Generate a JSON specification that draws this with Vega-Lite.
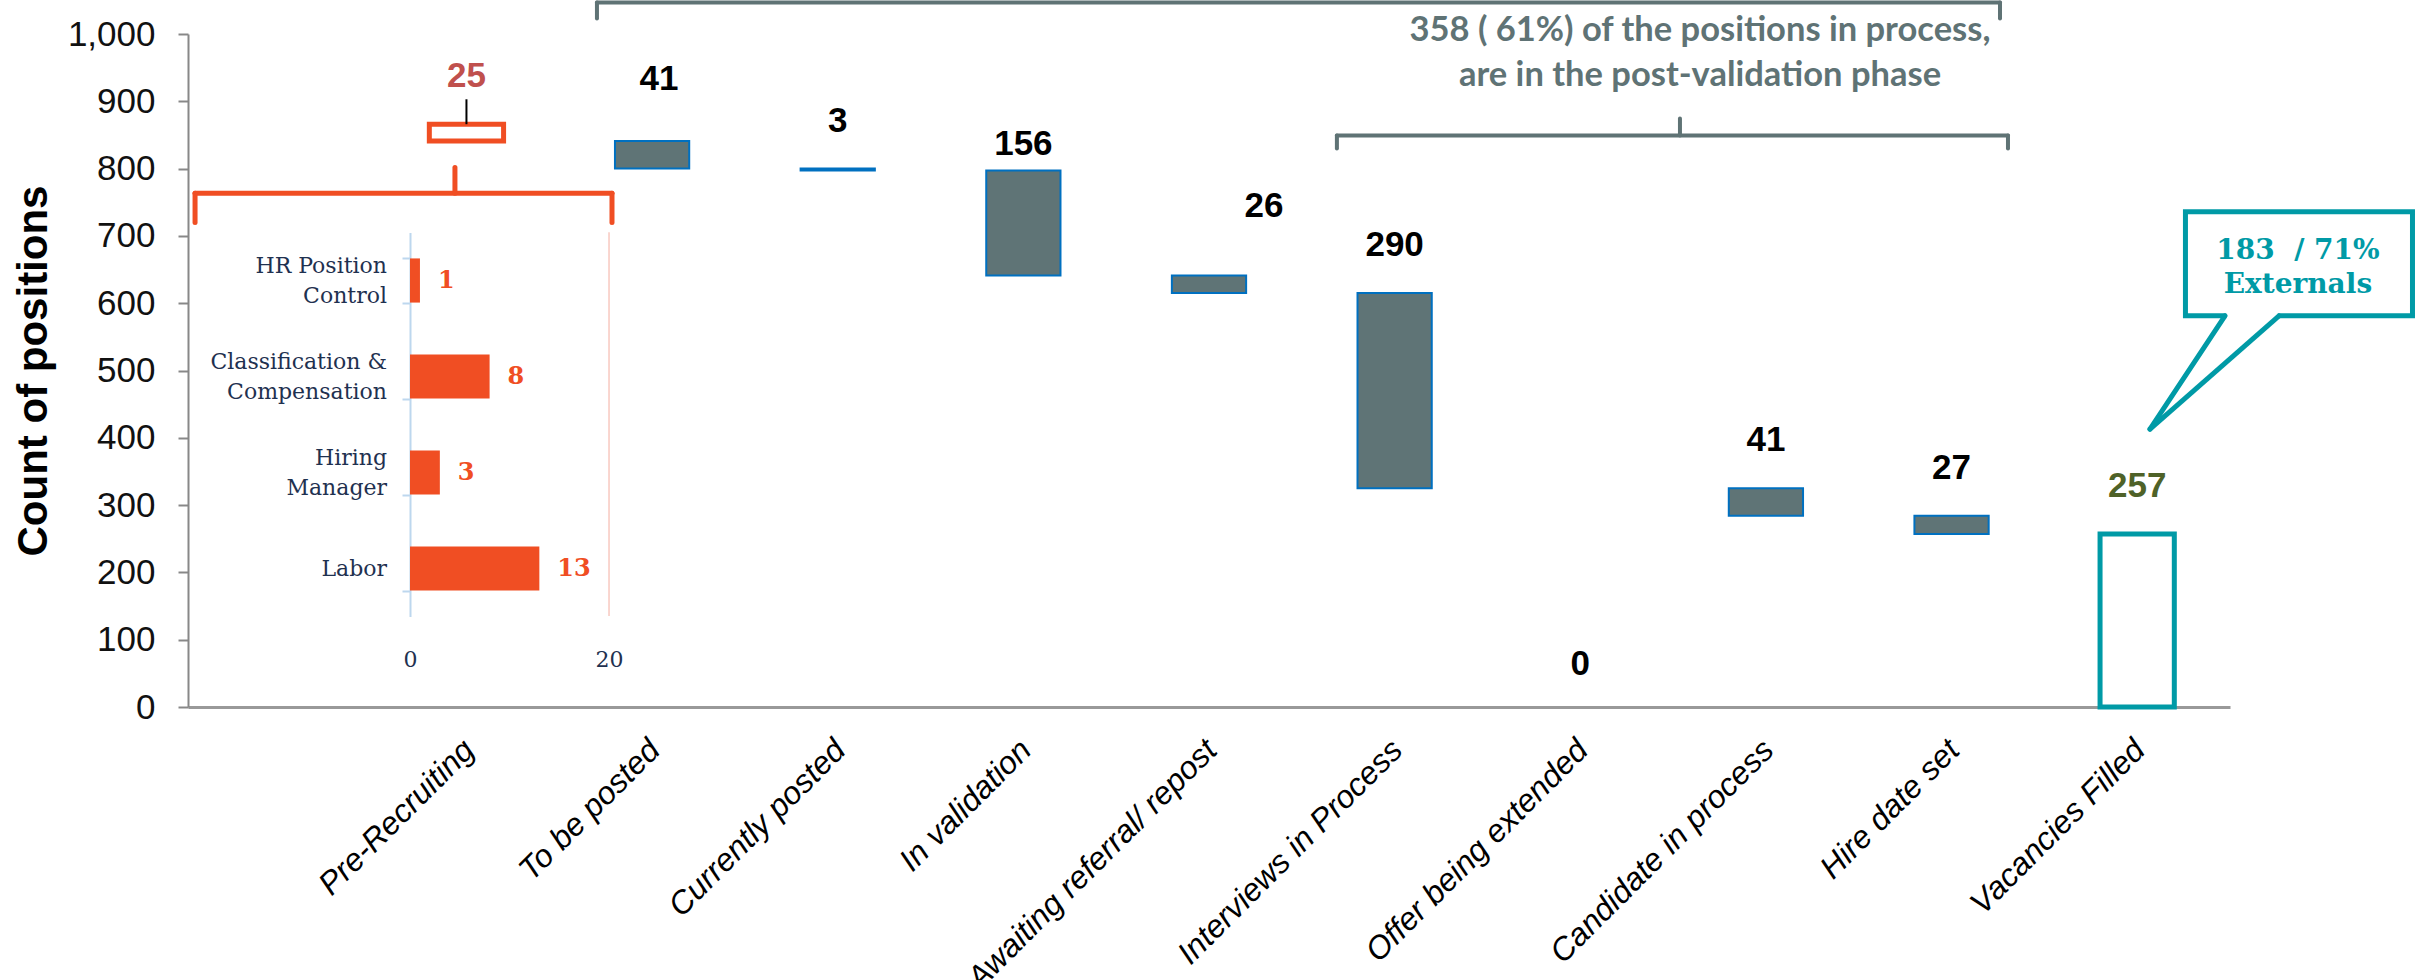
{
  "$schema": "https://vega.github.io/schema/vega-lite/v6.json",
  "width": 2042,
  "height": 673,
  "autosize": {"type": "none"},
  "padding": {"left": 188, "top": 34, "right": 190, "bottom": 273},
  "background": "white",
  "config": {"view": {"stroke": null}, "font": "Liberation Sans"},
  "datasets": {
    "stages": [
      {"stage": "Pre-Recruiting", "value": 25, "low": 841, "high": 866},
      {"stage": "To be posted", "value": 41, "low": 800, "high": 841},
      {"stage": "Currently posted", "value": 3, "low": 797, "high": 800},
      {"stage": "In validation", "value": 156, "low": 641, "high": 797},
      {"stage": "Awaiting referral/ repost", "value": 26, "low": 615, "high": 641},
      {"stage": "Interviews in Process", "value": 290, "low": 325, "high": 615},
      {"stage": "Offer being extended", "value": 0, "low": 325, "high": 325},
      {"stage": "Candidate in process", "value": 41, "low": 284, "high": 325},
      {"stage": "Hire date set", "value": 27, "low": 257, "high": 284},
      {"stage": "Vacancies Filled", "value": 257, "low": 0, "high": 257}
    ],
    "inset": [
      {"reason": "HR Position Control", "label": "HR Position\nControl", "count": 1},
      {"reason": "Classification & Compensation", "label": "Classification &\nCompensation", "count": 8},
      {"reason": "Hiring Manager", "label": "Hiring\nManager", "count": 3},
      {"reason": "Labor", "label": "Labor", "count": 13}
    ]
  },
  "resolve": {"scale": {"x": "independent", "y": "independent"}},
  "layer": [
    {
      "data": {"name": "stages"},
      "encoding": {
        "x": {
          "field": "stage", "type": "nominal", "sort": null,
          "scale": {"domain": [" ", "Pre-Recruiting", "To be posted", "Currently posted", "In validation", "Awaiting referral/ repost", "Interviews in Process", "Offer being extended", "Candidate in process", "Hire date set", "Vacancies Filled"], "paddingInner": 0.6, "paddingOuter": 0.3},
          "axis": {"title": null, "labelAngle": -45, "labelAlign": "right", "labelBaseline": "top", "labelFontSize": 32, "labelFontStyle": "italic", "labelColor": "#000", "ticks": false, "tickSize": 0, "labelPadding": 27, "labelOffset": -8, "domainColor": "#999", "domainWidth": 3, "labelOverlap": false, "labelLimit": 1000}
        }
      },
      "layer": [
        {
          "transform": [{"filter": "datum.stage !== 'Pre-Recruiting' && datum.stage !== 'Vacancies Filled' && datum.value > 0"}],
          "mark": {"type": "bar", "fill": "#5f7476", "stroke": "#0070c0", "strokeWidth": 2},
          "encoding": {
            "y": {"field": "low", "type": "quantitative", "scale": {"domain": [0, 1000], "nice": false},
              "axis": {"values": [0, 100, 200, 300, 400, 500, 600, 700, 800, 900, 1000], "format": ",d", "title": "Count of positions", "titleFontSize": 42, "titleFontWeight": "bold", "titleColor": "#000", "titlePadding": 12, "labelFontSize": 35, "labelColor": "#111", "labelPadding": 23, "tickSize": 10, "tickColor": "#888", "tickWidth": 2, "domainColor": "#888", "domainWidth": 2, "grid": false}},
            "y2": {"field": "high"}
          }
        },
        {
          "transform": [{"filter": "datum.stage === 'Pre-Recruiting'"}],
          "mark": {"type": "bar", "fill": "white", "stroke": "#f04e23", "strokeWidth": 5},
          "encoding": {"y": {"field": "low", "type": "quantitative"}, "y2": {"field": "high"}}
        },
        {
          "transform": [{"filter": "datum.stage === 'Vacancies Filled'"}],
          "mark": {"type": "bar", "fill": "white", "stroke": "#009aa6", "strokeWidth": 5},
          "encoding": {"y": {"field": "low", "type": "quantitative"}, "y2": {"field": "high"}}
        },
        {
          "transform": [{"filter": "datum.stage === 'Pre-Recruiting'"}],
          "mark": {"type": "rule", "color": "#000", "strokeWidth": 2},
          "encoding": {"y": {"field": "high", "type": "quantitative"}, "y2": {"datum": 903}}
        },
        {
          "transform": [{"filter": "indexof(['To be posted','In validation','Awaiting referral/ repost','Offer being extended'], datum.stage) < 0"}],
          "mark": {"type": "text", "fontSize": 35, "fontWeight": "bold", "baseline": "middle", "dy": -48},
          "encoding": {
            "y": {"field": "high", "type": "quantitative"},
            "text": {"field": "value"},
            "color": {"condition": [{"test": "datum.stage === 'Pre-Recruiting'", "value": "#c0504d"}, {"test": "datum.stage === 'Vacancies Filled'", "value": "#4f6228"}], "value": "#000"}
          }
        },
        {
          "transform": [{"filter": "datum.stage === 'To be posted'"}],
          "mark": {"type": "text", "fontSize": 35, "fontWeight": "bold", "baseline": "middle", "dy": -62, "dx": 7, "color": "#000"},
          "encoding": {"y": {"field": "high", "type": "quantitative"}, "text": {"field": "value"}}
        },
        {
          "transform": [{"filter": "datum.stage === 'In validation'"}],
          "mark": {"type": "text", "fontSize": 35, "fontWeight": "bold", "baseline": "middle", "dy": -27, "color": "#000"},
          "encoding": {"y": {"field": "high", "type": "quantitative"}, "text": {"field": "value"}}
        },
        {
          "transform": [{"filter": "datum.stage === 'Awaiting referral/ repost'"}],
          "mark": {"type": "text", "fontSize": 35, "fontWeight": "bold", "baseline": "middle", "dy": -70, "dx": 55, "color": "#000"},
          "encoding": {"y": {"field": "high", "type": "quantitative"}, "text": {"field": "value"}}
        },
        {
          "transform": [{"filter": "datum.stage === 'Offer being extended'"}],
          "mark": {"type": "text", "fontSize": 35, "fontWeight": "bold", "baseline": "middle", "dy": -43, "color": "#000"},
          "encoding": {"y": {"datum": 0, "type": "quantitative"}, "text": {"field": "value"}}
        }
      ]
    },
    {
      "data": {"name": "inset"},
      "encoding": {
        "y": {
          "field": "reason", "type": "nominal", "sort": null,
          "scale": {"range": [198.5, 582.5], "paddingInner": 0.54, "paddingOuter": 0.27},
          "axis": {"orient": "left", "offset": -222, "labels": false, "title": null, "domainColor": "#bdd7ee", "domainWidth": 2, "tickColor": "#bdd7ee", "tickWidth": 2, "tickSize": 8, "tickBand": "extent", "grid": false}
        }
      },
      "layer": [
        {
          "mark": {"type": "bar", "fill": "#f04e23"},
          "encoding": {
            "x": {"field": "count", "type": "quantitative", "scale": {"domain": [0, 20], "range": [222, 421], "nice": false},
              "axis": {"orient": "bottom", "offset": -60, "values": [0, 20], "format": "d", "domain": false, "ticks": false, "grid": false, "labelFlush": false, "labelFont": "DejaVu Serif", "labelFontSize": 22, "labelColor": "#1f3150", "labelPadding": 2, "title": null}}
          }
        },
        {
          "mark": {"type": "text", "align": "left", "baseline": "middle", "dx": 18, "font": "DejaVu Serif", "fontWeight": "bold", "fontSize": 24, "color": "#f04e23"},
          "encoding": {"x": {"field": "count", "type": "quantitative"}, "text": {"field": "count"}}
        },
        {
          "transform": [{"filter": "datum.reason !== 'Labor'"}],
          "mark": {"type": "text", "align": "right", "baseline": "middle", "dx": -23, "dy": -15, "lineBreak": "\n", "lineHeight": 30, "font": "DejaVu Serif", "fontSize": 22, "color": "#1f3150"},
          "encoding": {"x": {"datum": 0, "type": "quantitative"}, "text": {"field": "label"}}
        },
        {
          "transform": [{"filter": "datum.reason === 'Labor'"}],
          "mark": {"type": "text", "align": "right", "baseline": "middle", "dx": -23, "font": "DejaVu Serif", "fontSize": 22, "color": "#1f3150"},
          "encoding": {"x": {"datum": 0, "type": "quantitative"}, "text": {"field": "label"}}
        }
      ]
    },
    {
      "data": {"values": [{}]},
      "layer": [
        {
          "mark": {"type": "rule", "color": "#5f7375", "strokeWidth": 4, "strokeCap": "round"},
          "encoding": {
            "x": {"datum": 2.203, "type": "quantitative", "scale": {"domain": [0, 11], "nice": false, "zero": false}, "axis": null},
            "x2": {"datum": 9.761},
            "y": {"datum": 1046.8, "type": "quantitative", "scale": {"domain": [0, 1000], "nice": false}, "axis": null}
          }
        },
        {
          "mark": {"type": "rule", "color": "#5f7375", "strokeWidth": 4, "strokeCap": "round"},
          "encoding": {"x": {"datum": 2.203}, "y": {"datum": 1046.8}, "y2": {"datum": 1023}}
        },
        {
          "mark": {"type": "rule", "color": "#5f7375", "strokeWidth": 4, "strokeCap": "round"},
          "encoding": {"x": {"datum": 9.761}, "y": {"datum": 1046.8}, "y2": {"datum": 1023}}
        },
        {
          "mark": {"type": "rule", "color": "#5f7375", "strokeWidth": 4, "strokeCap": "round"},
          "encoding": {"x": {"datum": 6.189}, "x2": {"datum": 9.804}, "y": {"datum": 849.3}}
        },
        {
          "mark": {"type": "rule", "color": "#5f7375", "strokeWidth": 4, "strokeCap": "round"},
          "encoding": {"x": {"datum": 6.189}, "y": {"datum": 849.3}, "y2": {"datum": 830}}
        },
        {
          "mark": {"type": "rule", "color": "#5f7375", "strokeWidth": 4, "strokeCap": "round"},
          "encoding": {"x": {"datum": 9.804}, "y": {"datum": 849.3}, "y2": {"datum": 830}}
        },
        {
          "mark": {"type": "rule", "color": "#5f7375", "strokeWidth": 4, "strokeCap": "round"},
          "encoding": {"x": {"datum": 8.037}, "y": {"datum": 849.3}, "y2": {"datum": 874.5}}
        },
        {
          "mark": {"type": "rule", "color": "#f04e23", "strokeWidth": 5, "strokeCap": "round"},
          "encoding": {"x": {"datum": 0.038}, "x2": {"datum": 2.284}, "y": {"datum": 763.2}}
        },
        {
          "mark": {"type": "rule", "color": "#f04e23", "strokeWidth": 5, "strokeCap": "round"},
          "encoding": {"x": {"datum": 0.038}, "y": {"datum": 763.2}, "y2": {"datum": 720}}
        },
        {
          "mark": {"type": "rule", "color": "#f04e23", "strokeWidth": 5, "strokeCap": "round"},
          "encoding": {"x": {"datum": 2.284}, "y": {"datum": 763.2}, "y2": {"datum": 720}}
        },
        {
          "mark": {"type": "rule", "color": "#f04e23", "strokeWidth": 5, "strokeCap": "round"},
          "encoding": {"x": {"datum": 1.438}, "y": {"datum": 763.2}, "y2": {"datum": 801.8}}
        },
        {
          "mark": {"type": "rule", "color": "#f8c9c0", "strokeWidth": 1.5},
          "encoding": {"x": {"datum": 2.268}, "y": {"datum": 705.3}, "y2": {"datum": 135.1}}
        },
        {
          "mark": {"type": "rect", "fill": "white", "stroke": "#009aa6", "strokeWidth": 5},
          "encoding": {"x": {"datum": 10.76}, "x2": {"datum": 11.983}, "y": {"datum": 581.3}, "y2": {"datum": 735.7}}
        },
        {
          "mark": {"type": "rule", "color": "white", "strokeWidth": 8},
          "encoding": {"x": {"datum": 10.98}, "x2": {"datum": 11.257}, "y": {"datum": 581.3}}
        },
        {
          "mark": {"type": "rule", "color": "#009aa6", "strokeWidth": 5, "strokeCap": "round"},
          "encoding": {"x": {"datum": 10.973}, "x2": {"datum": 10.569}, "y": {"datum": 581.3}, "y2": {"datum": 412.8}}
        },
        {
          "mark": {"type": "rule", "color": "#009aa6", "strokeWidth": 5, "strokeCap": "round"},
          "encoding": {"x": {"datum": 11.264}, "x2": {"datum": 10.569}, "y": {"datum": 581.3}, "y2": {"datum": 412.8}}
        },
        {
          "mark": {"type": "text", "text": ["183\u00a0\u00a0/ 71%", "Externals"], "font": "DejaVu Serif", "fontWeight": "bold", "fontSize": 28, "lineHeight": 34, "color": "#009aa6", "align": "center", "baseline": "middle"},
          "encoding": {"x": {"datum": 11.366}, "y": {"datum": 677}}
        },
        {
          "mark": {"type": "text", "text": ["358 ( 61%) of the positions in process,", "are in the post-validation phase"], "font": "Lato", "fontWeight": "bold", "fontSize": 34.5, "lineHeight": 45, "color": "#5f7375", "align": "center", "baseline": "middle"},
          "encoding": {"x": {"datum": 8.145}, "y": {"datum": 1005}}
        }
      ]
    }
  ]
}
